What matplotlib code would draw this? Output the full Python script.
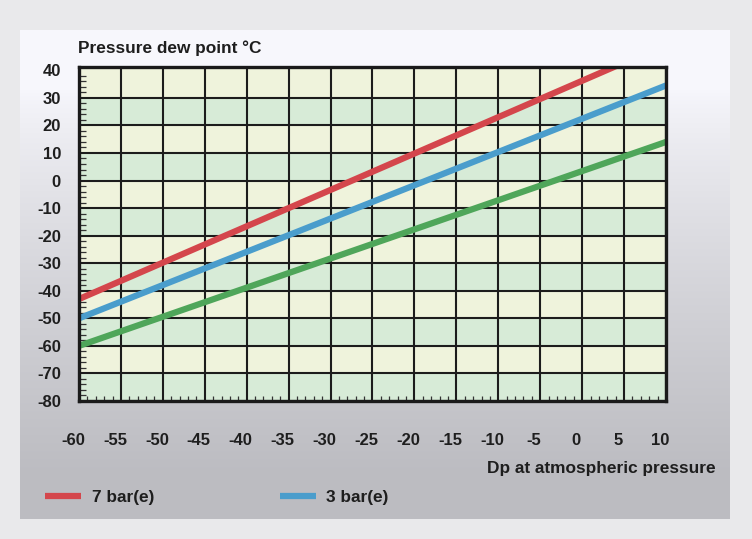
import numpy as np
import matplotlib
matplotlib.use("Agg")
import matplotlib.pyplot as plt
import matplotlib.transforms as mtransforms
from matplotlib.ticker import MultipleLocator

plt.rcParams['font.family'] = ['Liberation Sans', 'DejaVu Sans']
plt.rcParams['font.weight'] = 'bold'
plt.rcParams['axes.unicode_minus'] = False

# data (straight lines, dew point at atmospheric -> pressure dew point)
atm_dp = [-60, 10]
dp_7bar = [-43, 49.4]
dp_3bar = [-50, 34.5]
dp_atm = [-60, 14]

x_ticks = list(range(-60, 11, 5))
y_ticks = list(range(-80, 41, 10))

fig = plt.figure(figsize=(7.52, 5.39), dpi=100, facecolor='#e9e9eb')

# gradient panel behind the chart
bg = fig.add_axes([20/752, 1-519/539, 710/752, 489/539], zorder=-10)
grad = np.linspace(0, 1, 256)[:, None]
top = np.array([0.970, 0.970, 0.990])
bot = np.array([0.740, 0.740, 0.760])
w = np.clip((grad - 0.12) / 0.78, 0, 1) ** 0.8
img = top * (1 - w[..., None]) + bot * w[..., None]
img = np.repeat(img, 2, axis=1)
bg.imshow(img, aspect='auto', extent=[0, 1, 0, 1])
bg.set_axis_off()

ax = fig.add_axes([79/752, 1-401/539, 587/752, 334/539])
ax.set_facecolor('#eff3dc')
for lo in range(-80, 40, 20):
    ax.axhspan(lo, lo+10, color='#d7ebd7', zorder=0, lw=0)

ax.plot(atm_dp, dp_7bar, color='#d4464c', lw=4.5, solid_capstyle='butt', label='7 bar(e)', zorder=3)
ax.plot(atm_dp, dp_3bar, color='#4a9dcc', lw=4.5, solid_capstyle='butt', label='3 bar(e)', zorder=3)
ax.plot(atm_dp, dp_atm, color='#4fa65a', lw=4.5, solid_capstyle='butt', zorder=3)

ax.set_xlim(-60, 10)
ax.set_ylim(-80, 41.2)
ax.set_xticks(x_ticks)
ax.set_yticks(y_ticks)
ax.xaxis.set_minor_locator(MultipleLocator(1))
ax.yaxis.set_minor_locator(MultipleLocator(2))
ax.grid(which='major', color='#1c1c1c', lw=1.5, zorder=1)
ax.set_axisbelow(False)
ax.yaxis.get_gridlines()[-1].set_visible(False)

ax.tick_params(which='major', length=0, labelsize=12, labelcolor='#1e1e1e')
ax.tick_params(axis='y', which='major', pad=13)
ax.tick_params(axis='x', which='major', pad=23)
ax.tick_params(axis='y', which='minor', direction='in', length=5, width=0.9, color='#333333')
ax.tick_params(axis='x', which='minor', direction='in', length=3.5, width=0.9, color='#333333')
for s in ax.spines.values():
    s.set_linewidth(2.4)
    s.set_color('#1a1a1a')
    s.set_zorder(4)

shift = mtransforms.ScaledTranslation(-6/100, 0, fig.dpi_scale_trans)
for lab in ax.get_xticklabels():
    lab.set_transform(lab.get_transform() + shift)

fig.text(78/752, 1-48/539, 'Pressure dew point °C', fontsize=12.4, fontweight='bold',
         color='#1e1e1e', ha='left', va='center')
fig.text(716/752, 1-468/539, 'Dp at atmospheric pressure', fontsize=12.4, fontweight='bold',
         color='#1e1e1e', ha='right', va='center')

fig.legend(loc='center left', bbox_to_anchor=(45/752, 1-497/539), ncol=2, frameon=False,
           fontsize=12.4, handlelength=2.1, handletextpad=0.6, columnspacing=7.3,
           borderpad=0, borderaxespad=0, labelcolor='#1e1e1e')

fig.savefig('out.png', dpi=100, facecolor=fig.get_facecolor())
